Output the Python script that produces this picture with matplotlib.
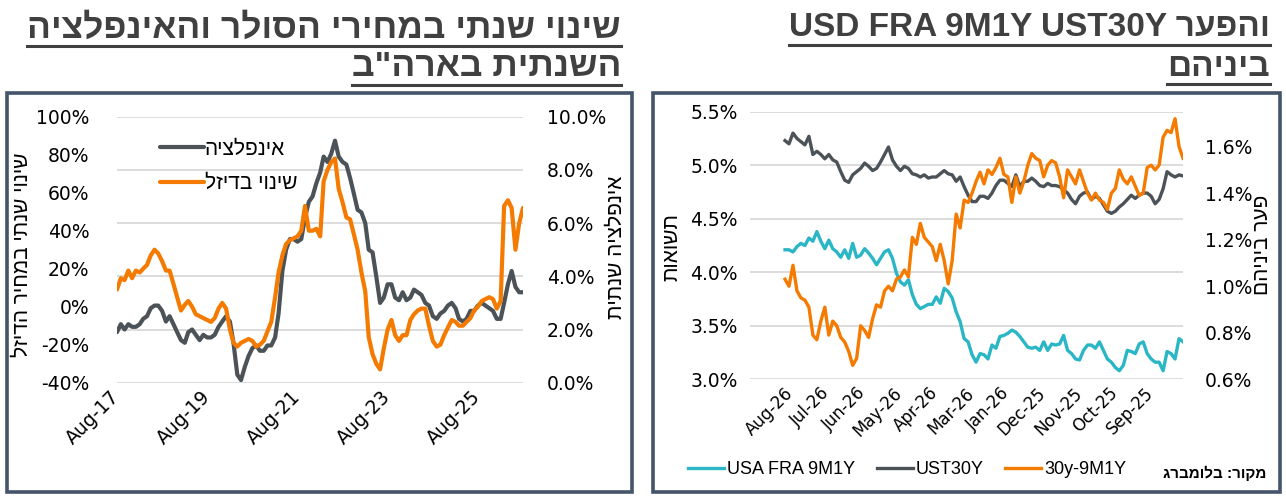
import matplotlib
matplotlib.use("Agg")
import matplotlib.pyplot as plt
from matplotlib import font_manager
from matplotlib.lines import Line2D
from matplotlib.patches import Rectangle
import numpy as np
import pandas as pd

# ---------------- data: left chart (monthly, from Aug-2017) ----------------
inflation = [1.9, 2.2, 2.0, 2.2, 2.1, 2.1, 2.2, 2.4, 2.5, 2.8,
             2.9, 2.9, 2.7, 2.3, 2.5, 2.2, 1.9, 1.6, 1.5, 1.9,
             2.0, 1.8, 1.6, 1.8, 1.7, 1.7, 1.8, 2.1, 2.3, 2.5,
             2.3, 1.5, 0.3, 0.1, 0.6, 1.0, 1.3, 1.4, 1.2, 1.2,
             1.4, 1.4, 1.7, 2.6, 4.2, 5.0, 5.4, 5.4, 5.3, 5.4,
             6.2, 6.8, 7.0, 7.5, 7.9, 8.5, 8.3, 8.6, 9.1, 8.5,
             8.3, 8.2, 7.7, 7.1, 6.5, 6.4, 6.0, 5.0, 4.9, 4.0,
             3.0, 3.2, 3.7, 3.7, 3.2, 3.1, 3.4, 3.1, 3.2, 3.5,
             3.4, 3.3, 3.0, 2.9, 2.5, 2.4, 2.6, 2.7, 2.9, 3.0,
             2.8, 2.4, 2.3, 2.4, 2.7, 2.7, 2.9, 3.0, 2.9, 2.8,
             2.7, 2.4, 2.4, 3.0, 3.7, 4.2, 3.6, 3.4, 3.4]
diesel = [9, 15, 14, 19, 15, 19, 18, 20, 22, 27,
          30, 28, 24, 19, 19, 12, 5, -2, 1, 3,
          0, -4, -5, -6, -7, -8, -6, -1, 2, -1,
          -12, -19, -21, -19, -18, -17, -18, -21, -20, -18,
          -13, -8, 5, 18, 27, 33, 35, 36, 37, 40,
          53, 40, 40, 41, 37, 66, 72, 76, 78, 62,
          55, 47, 46, 38, 30, 18, 8, -16, -25, -30,
          -33, -22, -12, -7, -15, -18, -15, -15, -7, -4,
          -2, -1, -1, -10, -18, -21, -20, -15, -11, -7,
          -8, -10, -10, -8, -6, -2, 0, 3, 4, 5,
          4, -1, 3, 53, 56, 52, 30, 44, 52]
months = pd.date_range("2017-08-01", periods=len(inflation), freq="MS")
left_ticks = ["Aug-17", "Aug-19", "Aug-21", "Aug-23", "Aug-25"]

# ---------------- data: right chart ----------------
ust30 = [5.23, 5.20, 5.30, 5.25, 5.22, 5.19, 5.27, 5.10, 5.13, 5.10,
         5.06, 5.10, 5.05, 5.03, 4.94, 4.86, 4.84, 4.91, 4.94, 4.97,
         5.02, 4.99, 4.95, 4.97, 5.03, 5.10, 5.17, 5.05, 4.99,
         4.95, 4.99, 4.97, 4.92, 4.91, 4.89, 4.91, 4.88, 4.89, 4.89,
         4.92, 4.95, 4.92, 4.91, 4.85, 4.89, 4.80, 4.72, 4.66, 4.66,
         4.71, 4.71, 4.69, 4.74, 4.81, 4.86, 4.86, 4.83, 4.80, 4.91,
         4.80, 4.85, 4.85, 4.88, 4.85, 4.81, 4.80, 4.83,
         4.81, 4.81, 4.80, 4.77, 4.74, 4.68, 4.64, 4.71, 4.74, 4.75,
         4.68, 4.71, 4.69, 4.63, 4.57, 4.55, 4.57, 4.61, 4.64, 4.68,
         4.72, 4.69, 4.72, 4.74, 4.74, 4.71, 4.64, 4.68, 4.78, 4.94,
         4.91, 4.89, 4.91, 4.90]
fra = [4.21, 4.21, 4.19, 4.24, 4.27, 4.25, 4.32, 4.29, 4.38, 4.29,
       4.22, 4.30, 4.22, 4.19, 4.14, 4.21, 4.13, 4.27, 4.14, 4.16,
       4.22, 4.18, 4.13, 4.07, 4.13, 4.19, 4.21, 4.13, 3.99,
       3.91, 3.88, 3.93, 3.79, 3.70, 3.66, 3.68, 3.70, 3.70, 3.77,
       3.71, 3.85, 3.82, 3.76, 3.63, 3.54, 3.38, 3.35, 3.23, 3.16,
       3.24, 3.23, 3.19, 3.32, 3.29, 3.40, 3.41, 3.43, 3.46, 3.44,
       3.40, 3.35, 3.30, 3.29, 3.30, 3.27, 3.35, 3.27,
       3.33, 3.32, 3.33, 3.41, 3.27, 3.24, 3.19, 3.18, 3.27, 3.32,
       3.32, 3.29, 3.35, 3.27, 3.19, 3.16, 3.11, 3.08, 3.13, 3.27,
       3.26, 3.24, 3.33, 3.35, 3.24, 3.19, 3.16, 3.16, 3.08, 3.26,
       3.24, 3.19, 3.38, 3.35]
spread = [1.03, 1.00, 1.09, 0.98, 0.95, 0.94, 0.91, 0.79, 0.77, 0.85,
          0.91, 0.79, 0.85, 0.83, 0.78, 0.76, 0.72, 0.66, 0.69, 0.83,
          0.81, 0.78, 0.86, 0.92, 0.91, 0.98, 1.00, 0.98, 1.03,
          1.04, 1.07, 1.04, 1.21, 1.18, 1.27, 1.21, 1.19, 1.17, 1.11,
          1.18, 1.11, 1.01, 1.11, 1.31, 1.25, 1.37, 1.36, 1.40, 1.45,
          1.49, 1.44, 1.50, 1.48, 1.51, 1.55, 1.48, 1.47, 1.36, 1.47,
          1.40, 1.45, 1.52, 1.57, 1.55, 1.54, 1.47, 1.52,
          1.54, 1.53, 1.47, 1.38, 1.50, 1.47, 1.44, 1.50, 1.45, 1.40,
          1.37, 1.40, 1.37, 1.36, 1.33, 1.40, 1.42, 1.50, 1.46, 1.44,
          1.47, 1.43, 1.39, 1.40, 1.51, 1.52, 1.50, 1.52, 1.64, 1.67,
          1.66, 1.72, 1.60, 1.55]
right_ticks = ["Aug-26", "Jul-26", "Jun-26", "May-26", "Apr-26", "Mar-26",
               "Jan-26", "Dec-25", "Nov-25", "Oct-25", "Sep-25"]


def heb(s):
    # matplotlib has no bidi support: feed Hebrew in visual order
    return s[::-1]


W, H = 1286, 500
HEB = ["Liberation Sans", "DejaVu Sans"]
installed = {f.name for f in font_manager.fontManager.ttflist}
TITLE_FONT = (["Liberation Sans Narrow"] if "Liberation Sans Narrow" in installed else []) + HEB
GRID = "#D9D9D9"
FRAME = "#44546A"
TITLE = "#404040"
C_GRAY = "#4B5358"
C_ORANGE = "#F57A00"
C_TEAL = "#2BB6C6"

plt.rcParams["font.family"] = ["DejaVu Sans"]


def fx(px):
    return px / W


def fy(py):
    return 1 - py / H


fig = plt.figure(figsize=(W / 100, H / 100), dpi=100)

# panel frames
for x0, x1 in [(7, 632), (653, 1280)]:
    fig.patches.append(Rectangle((fx(x0), fy(492)), fx(x1) - fx(x0), (492 - 93) / H,
                                 transform=fig.transFigure, fill=False,
                                 edgecolor=FRAME, linewidth=2.6))

# ---------------- left chart ----------------
axL = fig.add_axes([fx(117), fy(382.7), fx(523) - fx(117), (382.7 - 116.7) / H])
axL2 = axL.twinx()
axL.set_zorder(axL2.get_zorder() + 1)
axL.patch.set_visible(False)

l_inf, = axL2.plot(months, inflation, color=C_GRAY, lw=3.0, solid_capstyle="round")
l_dsl, = axL.plot(months, diesel, color=C_ORANGE, lw=3.0, solid_capstyle="round")

axL.set_ylim(-40, 100)
yl = np.arange(-40, 101, 20)
axL.set_yticks(yl)
axL.set_yticklabels(["%d%%" % v for v in yl])
axL2.set_ylim(0, 10)
yr = np.arange(0, 11, 2)
axL2.set_yticks(yr)
axL2.set_yticklabels(["%.1f%%" % v for v in yr])
axL2.yaxis.grid(True, color=GRID, lw=1.3)
axL2.set_axisbelow(True)
axL.set_xlim(months[0], months[-1])
tick_dates = [pd.Timestamp(2017 + 2 * i, 8, 1) for i in range(len(left_ticks))]
axL.set_xticks(tick_dates)
axL.set_xticklabels(left_ticks, rotation=45, ha="right", va="center", rotation_mode="anchor")
axL.tick_params(axis="y", length=0, labelsize=13.5, pad=20)
axL.tick_params(axis="x", length=0, labelsize=13.5, pad=8)
axL2.tick_params(axis="y", length=0, labelsize=13.5, pad=17)
for a in (axL, axL2):
    for s in a.spines.values():
        s.set_visible(False)

axL.legend([l_inf, l_dsl], [heb("אינפלציה"), heb("שינוי בדיזל")],
           loc="upper left", bbox_to_anchor=(0.06, 0.985), frameon=False,
           handlelength=2.1, handletextpad=0.05, labelspacing=0.75,
           prop={"family": HEB, "size": 15})

fig.text(fx(22), fy(255), heb("שינוי שנתי במחיר הדיזל"), rotation=90, ha="center",
         va="center", fontsize=15, family=HEB)
fig.text(fx(616), fy(247), heb("אינפלציה שנתית"), rotation=90, ha="center",
         va="center", fontsize=15, family=HEB)

# ---------------- right chart ----------------
axR = fig.add_axes([fx(750), fy(379.3), fx(1183) - fx(750), (379.3 - 111.7) / H])
axR2 = axR.twinx()
x = np.arange(len(ust30))
l_fra, = axR.plot(x, fra, color=C_TEAL, lw=2.4)
l_ust, = axR.plot(x, ust30, color=C_GRAY, lw=2.4)
l_spr, = axR2.plot(x, spread, color=C_ORANGE, lw=2.4)

axR.set_ylim(3.0, 5.5)
yl = np.arange(3.0, 5.51, 0.5)
axR.set_yticks(yl)
axR.set_yticklabels(["%.1f%%" % v for v in yl])
axR.yaxis.grid(True, color=GRID, lw=1.3)
axR.set_axisbelow(True)
axR2.set_ylim(0.6, 1.75)
yr = np.arange(0.6, 1.61, 0.2)
axR2.set_yticks(yr)
axR2.set_yticklabels(["%.1f%%" % v for v in yr])
axR.set_xlim(-8.8, len(ust30) - 1)
axR.set_xticks(1.5 + 9.05 * np.arange(len(right_ticks)))
axR.set_xticklabels(right_ticks, rotation=45, ha="right", va="center", rotation_mode="anchor")
axR.tick_params(axis="y", length=0, labelsize=13.5, pad=9)
axR.tick_params(axis="x", length=0, labelsize=12, pad=8)
axR2.tick_params(axis="y", length=0, labelsize=13.5, pad=16)
for a in (axR, axR2):
    for s in a.spines.values():
        s.set_visible(False)

fig.legend([l_fra, l_ust, l_spr], ["USA FRA 9M1Y", "UST30Y", "30y-9M1Y"],
           loc="center left", bbox_to_anchor=(fx(672), fy(470)), ncol=3, frameon=False,
           handlelength=2.0, handletextpad=0.15, columnspacing=1.2,
           prop={"family": HEB, "size": 13})
fig.text(fx(1266), fy(473), heb("מקור: בלומברג"), ha="right", va="center",
         fontsize=11, weight="bold", family=HEB)

fig.text(fx(672), fy(247), heb("תשואות"), rotation=90, ha="center", va="center",
         fontsize=15, family=HEB)
fig.text(fx(1263), fy(245), heb("פער ביניהם"), rotation=90, ha="center", va="center",
         fontsize=15, family=HEB)

# ---------------- titles (underlined) ----------------
titles = [
    (621, 28, heb("שינוי שנתי במחירי הסולר והאינפלציה"), 25.5),
    (621, 67, heb('השנתית בארה"ב'), 25.5),
    (1270, 28, "USD FRA 9M1Y UST30Y " + heb("והפער"), 24),
    (1270, 67, heb("ביניהם"), 24),
]
title_objs = []
for px, py, s, fs in titles:
    t = fig.text(fx(px), fy(py), s, ha="right", va="center", fontsize=fs,
                 weight="bold", color=TITLE, family=TITLE_FONT)
    title_objs.append(t)

fig.canvas.draw()
r = fig.canvas.get_renderer()
for t in title_objs:
    bb = t.get_window_extent(r)
    yy = (bb.y0 - 1) / H
    fig.add_artist(Line2D([bb.x0 / W, bb.x1 / W], [yy, yy], transform=fig.transFigure,
                          color=TITLE, lw=2.2))

fig.savefig("out.png", dpi=100)
